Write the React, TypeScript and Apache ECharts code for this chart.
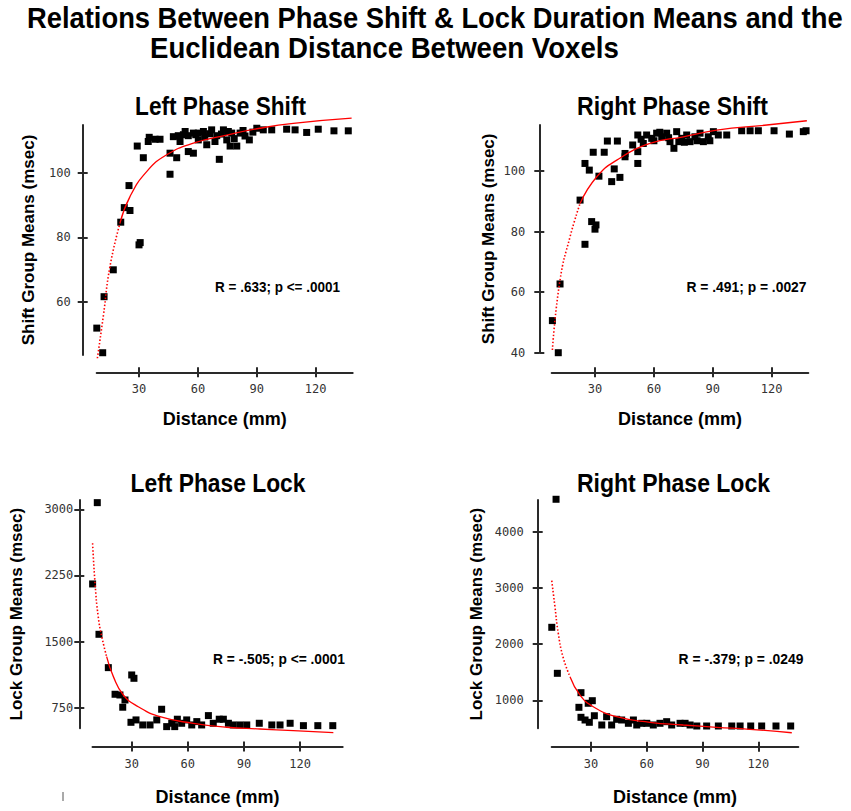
import { useEffect, useRef } from "react";
import * as echarts from "echarts";

// ---------- texts ----------
const mainTitle1 = "Relations Between Phase Shift & Lock Duration Means and the";
const mainTitle2 = "Euclidean Distance Between Voxels";
const panelTitles = ["Left Phase Shift", "Right Phase Shift", "Left Phase Lock", "Right Phase Lock"];
const statLabels = ["R = .633; p <= .0001", "R = .491; p = .0027", "R = -.505; p <= .0001", "R = -.379; p = .0249"];
const xName = "Distance (mm)";
const yNames = ["Shift Group Means (msec)", "Shift Group Means (msec)", "Lock Group Means (msec)", "Lock Group Means (msec)"];

// ---------- tick labels ----------
const xTicks = [30, 60, 90, 120];
const leftShiftTicks = [60, 80, 100];
const rightShiftTicks = [40, 60, 80, 100];
const leftLockTicks = [750, 1500, 2250, 3000];
const rightLockTicks = [1000, 2000, 3000, 4000];

// ---------- axis extents ----------
const xExtents = [[8.45, 138.85], [7.95, 138.64], [9.04, 142.8], [8.86, 141.5]];
const yExtents = [[43.7, 114.7], [40, 115.2], [516, 3105], [501, 4570]];

// ---------- data: [distance mm, group mean msec] ----------
const leftShiftPoints = [
  [8.5, 52.0], [11.5, 44.4], [12.2, 61.7], [16.9, 70.0], [20.7, 84.7], [22.5, 89.2], [25.4, 88.3], [24.9, 96.0],
  [30.0, 77.7], [30.6, 78.4], [29.1, 108.2], [32.2, 104.6], [34.7, 109.6], [35.2, 110.9], [38.2, 110.3], [40.7, 110.3],
  [45.8, 99.5], [45.8, 106.0], [47.5, 111.1], [49.2, 104.6], [50.0, 111.4], [50.9, 109.6], [52.6, 111.7], [53.5, 112.7],
  [55.1, 106.5], [55.1, 111.4], [57.7, 106.0], [57.7, 112.2], [58.9, 111.7], [60.2, 112.2], [60.2, 110.1], [62.8, 112.7],
  [63.5, 111.0], [64.5, 108.6], [66.0, 112.0], [67.0, 113.2], [68.7, 109.6], [69.6, 111.4], [70.9, 104.1], [72.0, 111.9],
  [73.0, 113.2], [74.7, 110.1], [75.5, 112.7], [76.4, 108.2], [77.2, 112.2], [78.5, 110.5], [79.8, 108.2], [81.5, 112.2],
  [83.0, 113.0], [84.0, 111.3], [86.2, 110.1], [88.0, 112.5], [90.0, 113.7], [93.3, 113.2], [97.6, 113.2], [105.2, 113.4],
  [109.5, 113.2], [115.4, 112.4], [121.3, 113.4], [129.3, 112.9], [136.6, 112.9],
];
const rightShiftPoints = [
  [8.3, 50.6], [11.3, 40.0], [12.2, 62.7], [22.4, 90.4], [24.9, 102.5], [27.1, 100.3], [24.9, 75.8], [29.1, 106.2],
  [28.3, 83.3], [30.5, 82.2], [30.0, 80.8], [32.0, 98.3], [34.7, 106.2], [36.3, 109.9], [38.5, 96.5], [39.8, 100.7],
  [41.4, 109.9], [42.7, 97.9], [45.3, 105.8], [45.3, 104.7], [49.2, 108.6], [51.8, 102.5], [51.8, 111.9], [51.8, 106.4],
  [53.5, 110.5], [54.6, 109.1], [56.3, 111.9], [58.9, 110.8], [60.0, 110.0], [61.4, 112.5], [63.0, 112.8], [64.0, 111.3],
  [66.5, 112.5], [67.5, 111.0], [68.2, 109.7], [70.2, 107.5], [71.6, 113.0], [72.7, 109.7], [74.2, 110.8], [75.5, 109.5],
  [76.7, 111.9], [78.4, 109.7], [80.9, 111.3], [82.0, 110.0], [83.5, 112.5], [85.2, 109.7], [87.7, 111.3], [88.5, 110.0],
  [90.3, 113.0], [92.8, 111.9], [97.1, 111.9], [104.7, 113.3], [109.0, 113.3], [113.2, 113.3], [121.2, 113.3],
  [129.0, 112.2], [136.1, 113.0], [137.5, 113.3],
];
const leftLockPoints = [
  [11.6, 3075], [9.1, 2153], [12.5, 1582], [17.5, 1204], [21.1, 902], [23.7, 894], [26.4, 837], [25.2, 755],
  [30.0, 1121], [31.2, 1083], [29.6, 584], [32.3, 611], [35.9, 554], [39.8, 554], [43.4, 611], [46.0, 732],
  [48.7, 535], [51.4, 573], [53.0, 535], [54.4, 619], [56.7, 573], [59.4, 611], [62.1, 554], [64.8, 592],
  [67.4, 554], [71.0, 660], [73.6, 573], [76.8, 619], [79.0, 619], [81.7, 573], [84.3, 554], [87.9, 554],
  [91.5, 554], [98.2, 573], [104.9, 554], [109.3, 554], [114.7, 573], [121.8, 546], [129.5, 546], [137.5, 546],
];
const rightLockPoints = [
  [11.2, 4583], [8.9, 2301], [11.9, 1481], [24.6, 1136], [23.5, 875], [24.6, 697], [26.8, 649], [28.5, 947],
  [30.7, 993], [29.1, 608], [31.8, 725], [35.8, 560], [38.4, 708], [41.1, 560], [43.8, 661], [46.5, 649],
  [50.1, 590], [52.8, 649], [54.6, 560], [57.3, 590], [60.0, 590], [63.5, 560], [67.1, 590], [70.7, 619],
  [73.4, 560], [77.9, 590], [80.6, 590], [83.3, 560], [86.9, 542], [92.2, 542], [98.5, 542], [105.7, 542],
  [110.2, 542], [115.9, 542], [121.8, 542], [129.5, 542], [137.4, 542],
];

// ---------- fitted curves ----------
const leftShiftFitSteep = [[8.8, 42.7], [11.8, 55.6], [15.2, 71.0], [20.3, 84.4]];
const leftShiftFitFlat = [[20.3, 84.4], [25.4, 92.6], [33.9, 100.3], [44.1, 105.5], [57.7, 109.1], [74.7, 111.6], [91.6, 113.7], [108.6, 115.2], [138.3, 116.8]];
const rightShiftFitSteep = [[8.3, 40.9], [12.2, 64.0], [17.3, 78.3], [22.4, 89.3]];
const rightShiftFitFlat = [[22.4, 89.3], [30.9, 98.1], [41.1, 103.6], [58.0, 109.1], [75.0, 111.3], [92.0, 113.5], [117.5, 115.2], [137.9, 116.6]];
const leftLockFitSteep = [[9.1, 2614], [10.4, 2161], [12.1, 1782], [14.0, 1555], [16.6, 1328]];
const leftLockFitFlat = [[16.6, 1328], [20.2, 1102], [25.5, 894], [33.5, 761], [45.1, 648], [62.9, 573], [80.8, 528], [98.6, 508], [116.4, 489], [137.8, 467]];
const rightLockFitSteep = [[8.9, 3132], [10.6, 2668], [12.4, 2194], [14.9, 1777], [18.7, 1421]];
const rightLockFitFlat = [[18.7, 1421], [24.1, 1094], [31.2, 886], [43.8, 708], [61.7, 608], [79.6, 560], [97.6, 519], [115.5, 483], [138.0, 422]];

const pointSets = [leftShiftPoints, rightShiftPoints, leftLockPoints, rightLockPoints];
const steepFits = [leftShiftFitSteep, rightShiftFitSteep, leftLockFitSteep, rightLockFitSteep];
const flatFits = [leftShiftFitFlat, rightShiftFitFlat, leftLockFitFlat, rightLockFitFlat];
const yTickSets = [leftShiftTicks, rightShiftTicks, leftLockTicks, rightLockTicks];

export default function App() {
  const ref = useRef<HTMLDivElement>(null);

  useEffect(() => {
    if (!ref.current) return;
    const chart = echarts.init(ref.current, null, { renderer: "svg" });

    const ctx = document.createElement("canvas").getContext("2d");
    const fit = (text: string, font: string, target: number) => {
      if (!ctx) return 1;
      ctx.font = font;
      const w = ctx.measureText(text).width;
      return w > 0 ? target / w : 1;
    };

    const layouts = [
      { left: 96.7, top: 125, width: 256, height: 230, yOff: 14, xOff: 17.3, yLabelMargin: 12, yNameGap: 46, xNameGap: 38, titleX: 220.5, titleY: 106, titleW: 171, statX: 277.5, statY: 287, statW: 125 },
      { left: 551.7, top: 125, width: 256.6, height: 227.7, yOff: 12.4, xOff: 19.6, yLabelMargin: 14, yNameGap: 42, xNameGap: 38, titleX: 672.5, titleY: 106, titleW: 191, statX: 746.5, statY: 287, statW: 120 },
      { left: 92.5, top: 500, width: 250.2, height: 228.3, yOff: 13.2, xOff: 18.2, yLabelMargin: 6, yNameGap: 54, xNameGap: 41, titleX: 218, titleY: 483, titleW: 175, statX: 279, statY: 659, statW: 132 },
      { left: 551.7, top: 500, width: 246.6, height: 228.3, yOff: 14, xOff: 18.4, yLabelMargin: 14, yNameGap: 53, xNameGap: 41, titleX: 673.5, titleY: 483, titleW: 193, statX: 741, statY: 659, statW: 125 },
    ];

    const axisColor = "#2a2a2a";
    const tickFont = { fontFamily: "DejaVu Sans Mono", fontSize: 12, color: "#333" };
    const nameFont = { fontFamily: "Liberation Sans", fontWeight: "bold", fontSize: 18, color: "#000" };
    const plain = (v: number) => String(v);

    const grids: any[] = [];
    const xAxes: any[] = [];
    const yAxes: any[] = [];
    const series: any[] = [];
    const graphics: any[] = [];

    layouts.forEach((L, i) => {
      grids.push({ left: L.left, top: L.top, width: L.width, height: L.height, containLabel: false, outerBoundsMode: "none" });
      const lineStyle = { color: axisColor, width: 2 };
      xAxes.push({
        gridIndex: i, type: "value", position: "bottom", offset: L.xOff,
        min: xExtents[i][0], max: xExtents[i][1],
        axisLine: { show: true, onZero: false, lineStyle },
        axisTick: { show: true, length: 5, customValues: xTicks, lineStyle },
        axisLabel: { show: true, customValues: xTicks, margin: 11, formatter: plain, ...tickFont },
        splitLine: { show: false },
        name: xName, nameLocation: "middle", nameGap: L.xNameGap,
        nameTextStyle: { ...nameFont, fontSize: 18 },
      });
      xAxes.push({
        gridIndex: i, type: "value", position: "bottom", offset: L.xOff,
        min: xExtents[i][0], max: xExtents[i][1],
        axisLine: { show: false, onZero: false },
        axisTick: { show: true, inside: true, length: 5, customValues: xTicks, lineStyle },
        axisLabel: { show: false },
        splitLine: { show: false },
      });
      yAxes.push({
        gridIndex: i, type: "value", position: "left", offset: L.yOff,
        min: yExtents[i][0], max: yExtents[i][1],
        axisLine: { show: true, onZero: false, lineStyle },
        axisTick: { show: true, length: 5, customValues: yTickSets[i], lineStyle },
        axisLabel: { show: true, customValues: yTickSets[i], margin: L.yLabelMargin, formatter: plain, ...tickFont },
        splitLine: { show: false },
        name: yNames[i], nameLocation: "middle", nameGap: L.yNameGap,
        nameTextStyle: { ...nameFont, fontSize: 17 },
      });
      yAxes.push({
        gridIndex: i, type: "value", position: "left", offset: L.yOff,
        min: yExtents[i][0], max: yExtents[i][1],
        axisLine: { show: false, onZero: false },
        axisTick: { show: true, inside: true, length: 5, customValues: yTickSets[i], lineStyle },
        axisLabel: { show: false },
        splitLine: { show: false },
      });

      series.push({
        type: "scatter", xAxisIndex: 2 * i, yAxisIndex: 2 * i,
        data: pointSets[i], symbol: "rect", symbolSize: 7,
        itemStyle: { color: "#000", opacity: 1 }, clip: false, z: 2,
      });
      series.push({
        type: "line", xAxisIndex: 2 * i, yAxisIndex: 2 * i,
        data: steepFits[i], smooth: true, showSymbol: false, symbol: "none",
        lineStyle: { color: "#ff0000", width: 1.6, type: [1.5, 2] }, clip: false, z: 3,
      });
      series.push({
        type: "line", xAxisIndex: 2 * i, yAxisIndex: 2 * i,
        data: flatFits[i], smooth: true, showSymbol: false, symbol: "none",
        lineStyle: { color: "#ff0000", width: 1.3 }, clip: false, z: 3,
      });

      const titleFont = "bold 26px 'Liberation Sans'";
      graphics.push({
        type: "text", x: L.titleX, y: L.titleY,
        scaleX: fit(panelTitles[i], titleFont, L.titleW),
        style: { text: panelTitles[i], fontFamily: "Liberation Sans", fontWeight: "bold", fontSize: 26, fill: "#000", align: "center", verticalAlign: "middle" },
      });
      const statFont = "bold 15px 'Liberation Sans'";
      graphics.push({
        type: "text", x: L.statX, y: L.statY,
        scaleX: fit(statLabels[i], statFont, L.statW),
        style: { text: statLabels[i], fontFamily: "Liberation Sans", fontWeight: "bold", fontSize: 15, fill: "#000", align: "center", verticalAlign: "middle" },
      });
    });

    const mainFont = "bold 29px 'Liberation Sans'";
    graphics.push({
      type: "text", x: 27, y: 18, scaleX: fit(mainTitle1, mainFont, 816),
      style: { text: mainTitle1, fontFamily: "Liberation Sans", fontWeight: "bold", fontSize: 29, fill: "#000", align: "left", verticalAlign: "middle" },
    });
    graphics.push({
      type: "text", x: 150, y: 48, scaleX: fit(mainTitle2, mainFont, 469),
      style: { text: mainTitle2, fontFamily: "Liberation Sans", fontWeight: "bold", fontSize: 29, fill: "#000", align: "left", verticalAlign: "middle" },
    });
    graphics.push({
      type: "line", shape: { x1: 63, y1: 792, x2: 63, y2: 801 },
      style: { stroke: "#555", lineWidth: 1 },
    });

    chart.setOption({
      animation: false,
      backgroundColor: "#ffffff",
      grid: grids,
      xAxis: xAxes,
      yAxis: yAxes,
      series,
      graphic: graphics,
    });

    return () => chart.dispose();
  }, []);

  return (
    <div
      ref={ref}
      style={{ position: "fixed", left: 0, top: 0, width: 851, height: 811, background: "#fff" }}
    />
  );
}
